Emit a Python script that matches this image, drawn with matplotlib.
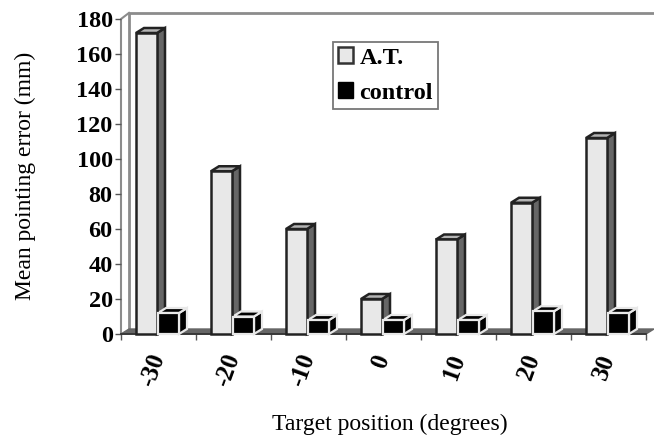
import matplotlib

matplotlib.use("Agg")

import matplotlib.pyplot as plt
from matplotlib.patches import Patch, Polygon

plt.rcParams["font.family"] = ["Liberation Serif", "DejaVu Serif"]

positions = ["-30", "-20", "-10", "0", "10", "20", "30"]
at_values = [172, 93, 60, 20, 54, 75, 112]
control_values = [12, 10, 8, 8, 8, 13, 12]
y_ticks = [0, 20, 40, 60, 80, 100, 120, 140, 160, 180]

W, H = 654, 436
BAR_W = 21 / 75
DX = 8 / 75  # 3d depth, data units
DY = 5 / 1.75
FACE_LIGHT = "#e8e8e8"
EDGE = "#222222"
WALL = "#8c8c8c"


def draw_bar(ax, x, value, front, top, side, edge, lw):
    w = BAR_W
    ax.add_patch(Polygon([(x + w, 0), (x + w + DX, DY), (x + w + DX, value + DY), (x + w, value)],
                         fc=side, ec=edge, lw=lw, clip_on=False, zorder=4))
    ax.add_patch(Polygon([(x, value), (x + DX, value + DY), (x + w + DX, value + DY), (x + w, value)],
                         fc=top, ec=edge, lw=lw, clip_on=False, zorder=4))
    ax.add_patch(Polygon([(x, 0), (x + w, 0), (x + w, value), (x, value)],
                         fc=front, ec=edge, lw=lw, clip_on=False, zorder=5))


fig = plt.figure(figsize=(W / 100, H / 100), dpi=100)
ax = fig.add_axes([121 / W, 1 - 334 / H, 525 / W, 315 / H])
ax.set_xlim(0, 7)
ax.set_ylim(0, 180)
for s in ax.spines.values():
    s.set_visible(False)

# back wall, side wall and floor
top_y = 183.5
ax.plot([0, 0, DX], [0, 180, top_y], color=WALL, lw=1.5, clip_on=False, zorder=1)
ax.plot([DX, DX, 7 + DX], [DY, top_y, top_y], color=WALL, lw=2, clip_on=False, zorder=1)
ax.add_patch(Polygon([(0, 0), (7, 0), (7 + DX, DY), (DX, DY)], fc="#666666", ec="#666666",
                     clip_on=False, zorder=2))
ax.plot([0, 7], [0, 0], color="#333333", lw=1.3, clip_on=False, zorder=3)

for i in range(len(positions)):
    draw_bar(ax, i + 0.2, at_values[i], FACE_LIGHT, "#b4b4b4", "#666666", EDGE, 1.8)
    draw_bar(ax, i + 0.2 + 22 / 75, control_values[i], "black", "black", "black", "#e8e8e8", 1.6)

ax.set_xticks(range(8))
ax.set_xticklabels([])
ax.set_yticks(y_ticks)
ax.set_yticklabels([str(v) for v in y_ticks], fontsize=17.5, fontweight="bold")
ax.tick_params(axis="y", length=4, width=1, color="#555555", pad=2)
ax.tick_params(axis="x", length=4, width=1, color="#555555")

for i, lab in enumerate(positions):
    ax.annotate(lab, (i + 0.5, 0), xytext=(0, -21), textcoords="offset pixels", rotation=70,
                rotation_mode="anchor", ha="right", va="center", fontsize=18, fontweight="bold",
                annotation_clip=False)

fig.text(390 / W, 1 - 424 / H, "Target position (degrees)", fontsize=17, ha="center", va="center")
fig.text(25 / W, 1 - 176 / H, "Mean pointing error (mm)", fontsize=17, rotation=90, ha="center", va="center")

handles = [Patch(fc=FACE_LIGHT, ec="#333333", lw=1.8, label="A.T."),
           Patch(fc="black", ec="black", label="control")]
leg = ax.legend(handles=handles, loc="upper left", bbox_to_anchor=(333 / W, 1 - 42 / H),
                bbox_transform=fig.transFigure, fancybox=False, framealpha=1, edgecolor="#777777",
                prop={"size": 17.5, "weight": "bold"}, handlelength=0.62, handleheight=0.62,
                handletextpad=0.25, labelspacing=0.55, borderpad=0.22, borderaxespad=0)
leg.get_frame().set_linewidth(1.3)
leg.set_zorder(6)

fig.savefig("out.png", dpi=100)
plt.close(fig)
